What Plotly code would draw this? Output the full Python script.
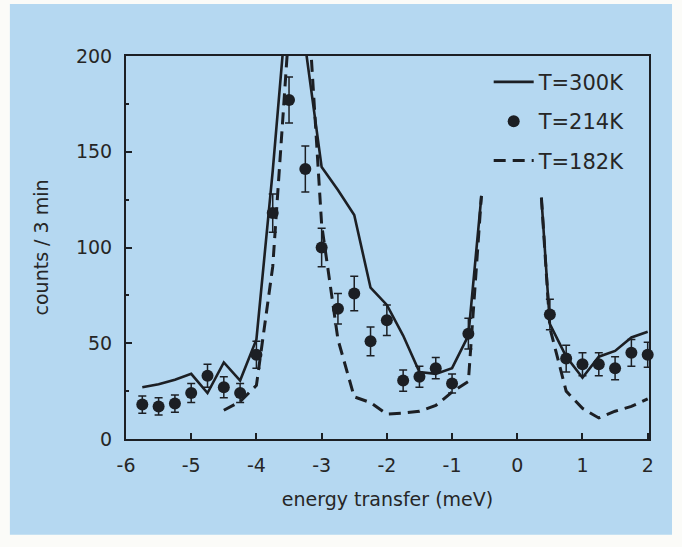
import plotly.graph_objects as go

# ---- data ----
energy_214 = [-5.75, -5.5, -5.25, -5.0, -4.75, -4.5, -4.25, -4.0, -3.75, -3.5, -3.25, -3.0,
              -2.75, -2.5, -2.25, -2.0, -1.75, -1.5, -1.25, -1.0, -0.75,
              0.5, 0.75, 1.0, 1.25, 1.5, 1.75, 2.0]
counts_214 = [18, 17, 18.5, 24, 33, 27, 24, 44, 118, 177, 141, 100,
              68, 76, 51, 62, 30.5, 32.5, 37, 29, 55,
              65, 42, 39, 39, 37, 45, 44]
err_214 = [4.5, 4.5, 4.5, 5, 6, 5.5, 5, 7, 10, 12, 12, 10,
           8, 9, 7.5, 8, 5.5, 5.5, 5.5, 5, 8,
           8, 7, 6, 6, 6, 7, 6.5]

energy_300_left = [-5.75, -5.5, -5.25, -5.0, -4.75, -4.5, -4.25, -4.0, -3.75, -3.5, -3.25, -3.0,
                   -2.75, -2.5, -2.25, -2.0, -1.75, -1.5, -1.25, -1.0, -0.75, -0.55]
counts_300_left = [27, 28.6, 31, 34, 24, 40, 30.5, 52, 140, 240, 205, 142,
                   130, 117, 79, 70, 54, 35, 34, 37, 54, 127]
energy_300_right = [0.37, 0.5, 0.75, 1.0, 1.25, 1.5, 1.75, 2.0]
counts_300_right = [126, 60, 43, 32, 43, 46, 53, 56]

energy_182_left = [-4.5, -4.25, -4.0, -3.75, -3.5, -3.25, -3.0, -2.75, -2.5, -2.25, -2.0,
                   -1.75, -1.5, -1.25, -1.0, -0.75, -0.55]
counts_182_left = [15, 19.5, 28, 90, 215, 250, 112, 52, 22, 19, 13,
                   13.5, 14.5, 17.5, 24.5, 30, 127]
energy_182_right = [0.37, 0.5, 0.75, 1.0, 1.25, 1.5, 1.75, 2.0]
counts_182_right = [126, 58, 25, 16, 11, 14.5, 17, 21]

x_ticks = [-6, -5, -4, -3, -2, -1, 0, 1, 2]
y_ticks = [0, 50, 100, 150, 200]

names = ["T=300K", "T=214K", "T=182K"]

# ---- styling ----
BG = "#b5d8f1"
INK = "#1c1f24"
TXT = "#262626"
FONT = "DejaVu Sans"

fig = go.Figure()

fig.add_trace(go.Scatter(
    x=energy_182_left + [None] + energy_182_right,
    y=counts_182_left + [None] + counts_182_right,
    mode="lines", name=names[2], legendrank=3, legendgroup="c",
    line=dict(color=INK, width=3, dash="12px,7px"),
    connectgaps=False,
))
fig.add_trace(go.Scatter(
    x=energy_300_left + [None] + energy_300_right,
    y=counts_300_left + [None] + counts_300_right,
    mode="lines", name=names[0], legendrank=1, legendgroup="a",
    line=dict(color=INK, width=2.6),
    connectgaps=False,
))
fig.add_trace(go.Scatter(
    x=energy_214, y=counts_214,
    mode="markers", name=names[1], legendrank=2, legendgroup="b",
    marker=dict(color=INK, size=12),
    error_y=dict(type="data", array=err_214, color=INK, thickness=1.5, width=4),
    cliponaxis=False,
))

axis_common = dict(
    showline=True, linecolor=INK, linewidth=2, mirror=True,
    ticks="inside", tickcolor=INK, tickwidth=1.5, ticklen=6,
    showgrid=False, zeroline=False,
    tickfont=dict(family=FONT, size=19, color=TXT),
)

fig.update_xaxes(
    range=[-6.0, 2.02], tickmode="array", tickvals=x_ticks, ticktext=[str(v) for v in x_ticks],
    ticklabelstandoff=8,
    title=dict(text="energy transfer (meV)", font=dict(family=FONT, size=19, color=TXT), standoff=18),
    **axis_common,
)
fig.update_yaxes(
    range=[0, 200], tickmode="linear", tick0=0, dtick=50,
    minor=dict(tickmode="linear", tick0=0, dtick=25, ticks="inside", ticklen=3,
               tickcolor=INK, tickwidth=1.5, showgrid=False),
    ticklabelstandoff=8,
    title=dict(text="counts / 3 min", font=dict(family=FONT, size=19, color=TXT), standoff=22),
    **axis_common,
)

fig.add_shape(type="rect", xref="paper", yref="paper", x0=-0.222, x1=1.044, y0=-0.25, y1=1.136,
              fillcolor=BG, line=dict(width=0), layer="below")

fig.update_layout(
    width=682, height=547,
    margin=dict(l=126, r=33, t=56, b=108),
    paper_bgcolor="#fbfbf8", plot_bgcolor=BG,
    font=dict(family=FONT, color=TXT),
    showlegend=True,
    legend=dict(
        x=0.965, y=0.985, xanchor="right", yanchor="top",
        bgcolor="rgba(0,0,0,0)", borderwidth=0,
        font=dict(family=FONT, size=21, color=TXT),
        tracegroupgap=9, itemwidth=40,
    ),
)

fig.write_html("out.html", config={"displayModeBar": False},
               post_script="document.body.style.margin='0px';")
